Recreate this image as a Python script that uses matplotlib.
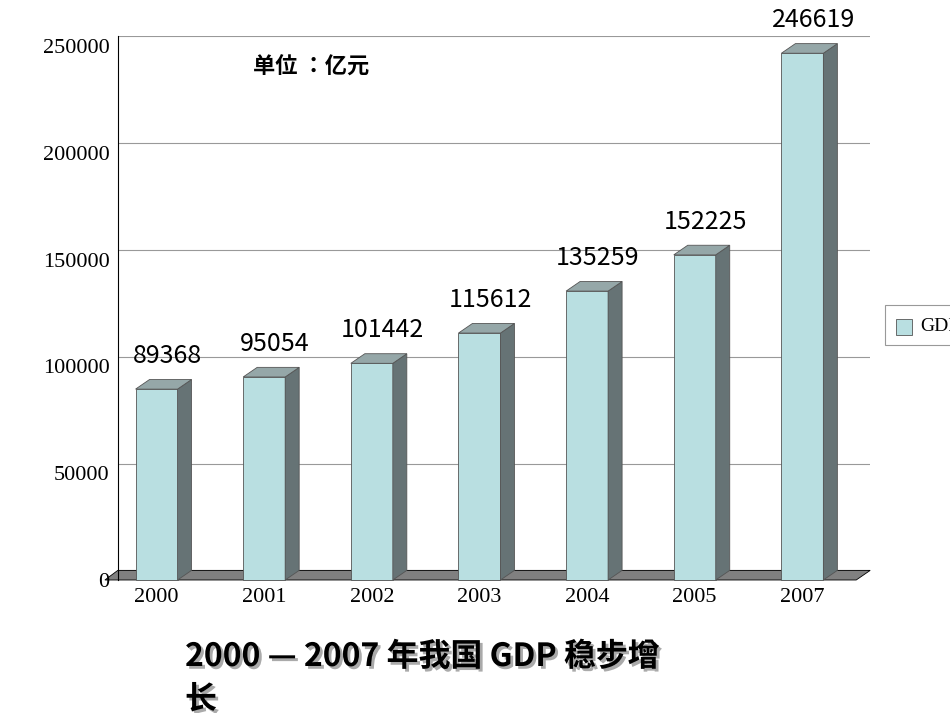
import matplotlib.pyplot as plt
from matplotlib import font_manager
from matplotlib.patches import Polygon
import matplotlib.patheffects as pe

years = ["2000", "2001", "2002", "2003", "2004", "2005", "2007"]
gdp = [89368, 95054, 101442, 115612, 135259, 152225, 246619]
yticks = [0, 50000, 100000, 150000, 200000, 250000]

# find an installed CJK font by name
cjk = "DejaVu Sans"
names = sorted({f.name for f in font_manager.fontManager.ttflist})
for n in names:
    if "CJK" in n and "SC" in n:
        cjk = n
        break
else:
    for n in names:
        if "CJK" in n:
            cjk = n
            break
plt.rcParams["font.family"] = [cjk, "DejaVu Sans"]

front = "#b9dfe1"
side = "#667375"
top = "#95a7a8"
w = 0.39
dx = 0.13
dy = 4500

fig = plt.figure(figsize=(9.5, 7.13), dpi=100)
ax = fig.add_axes([0.124, 1 - 580 / 713, 0.792, 543.6 / 713])
ax.set_xlim(-0.36, 6.63)
ax.set_ylim(0, 250000 + dy)

# back wall grid
for v in yticks:
    ax.axhline(v + dy, color="#999999", lw=0.8, zorder=0)

# floor
floor = Polygon([(-0.48, 0), (6.5, 0), (6.63, dy), (-0.36, dy)], closed=True,
                facecolor="#808080", edgecolor="black", lw=0.6, clip_on=False, zorder=1)
ax.add_patch(floor)

for i, v in enumerate(gdp):
    x0 = i - w / 2
    x1 = i + w / 2
    ax.add_patch(Polygon([(x0, 0), (x1, 0), (x1, v), (x0, v)], facecolor=front,
                         edgecolor="#555555", lw=0.6, zorder=3, clip_on=False))
    ax.add_patch(Polygon([(x1, 0), (x1 + dx, dy), (x1 + dx, v + dy), (x1, v)],
                         facecolor=side, edgecolor="#555555", lw=0.6, zorder=3, clip_on=False))
    ax.add_patch(Polygon([(x0, v), (x1, v), (x1 + dx, v + dy), (x0 + dx, v + dy)],
                         facecolor=top, edgecolor="#555555", lw=0.6, zorder=3, clip_on=False))
    ax.text(i + 0.1, v + dy + 5000, str(v), ha="center", va="bottom",
            fontsize=18, clip_on=False)

ax.set_xticks(range(len(years)))
ax.set_xticklabels(years, fontfamily="Liberation Serif", fontsize=16)
ax.set_yticks(yticks)
ax.set_yticklabels([str(v) for v in yticks], fontfamily="Liberation Serif", fontsize=16)
ax.tick_params(length=0, pad=6)
for s in ax.spines.values():
    s.set_visible(False)
ax.spines["left"].set_visible(True)
ax.spines["left"].set_color("black")

ax.text(0.9, 240000, "单位 ：亿元", fontsize=16, fontweight="bold", va="center")

# legend box at right edge
fig.patches.append(plt.Rectangle((885 / 950, 1 - 345 / 713), 0.08, 40 / 713,
                                 transform=fig.transFigure, facecolor="white",
                                 edgecolor="#999999", lw=0.8))
fig.patches.append(plt.Rectangle((896 / 950, 1 - 335 / 713), 16 / 950, 16 / 713,
                                 transform=fig.transFigure, facecolor=front,
                                 edgecolor="#555555", lw=0.6))
fig.text(920 / 950, 1 - 327 / 713, "GDP", fontsize=14, fontfamily="Liberation Serif",
         va="center")

for line, y in [("2000 — 2007 年我国 GDP 稳步增", 657), ("长", 700)]:
    t = fig.text(185 / 950, 1 - y / 713, line, fontsize=23, fontweight="bold", va="center")
    t.set_path_effects([pe.SimplePatchShadow(offset=(2, -2), shadow_rgbFace="#aaaaaa", alpha=1),
                        pe.Normal()])

fig.savefig("out.png", dpi=100)
